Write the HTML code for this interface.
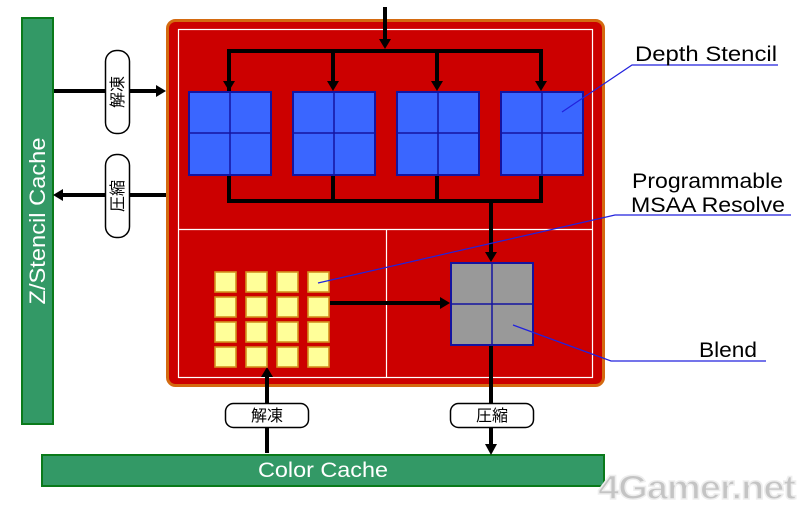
<!DOCTYPE html>
<html><head><meta charset="utf-8"><style>
html,body{margin:0;padding:0;background:#fff;}
svg{display:block;}
</style></head><body>
<svg width="800" height="507" viewBox="0 0 800 507" xmlns="http://www.w3.org/2000/svg">
<rect width="800" height="507" fill="#fff"/>
<!-- Z/Stencil cache -->
<rect x="22" y="18" width="31" height="406" fill="#339966" stroke="#0a7a1a" stroke-width="2"/>
<text transform="translate(45,221) rotate(-90)" text-anchor="middle" font-family="Liberation Sans, sans-serif" font-size="22" fill="#fff" textLength="167" lengthAdjust="spacingAndGlyphs">Z/Stencil Cache</text>
<!-- Color cache -->
<rect x="42" y="455" width="562" height="31" fill="#339966" stroke="#0a7a1a" stroke-width="2"/>
<text x="323" y="477" text-anchor="middle" font-family="Liberation Sans, sans-serif" font-size="21" fill="#fff" textLength="130" lengthAdjust="spacingAndGlyphs">Color Cache</text>
<!-- main box -->
<rect x="167.5" y="20.5" width="436" height="365" rx="8" fill="#cc0000" stroke="#d46a10" stroke-width="3"/>
<rect x="178.5" y="29.5" width="414" height="348" fill="none" stroke="#fff" stroke-width="1.2"/>
<line x1="178.5" y1="229.5" x2="592.5" y2="229.5" stroke="#fff" stroke-width="1.2"/>
<line x1="386.5" y1="229.5" x2="386.5" y2="377.5" stroke="#fff" stroke-width="1.2"/>
<!-- top arrow & bus -->
<g stroke="#000" stroke-width="4" fill="none">
<line x1="385" y1="7" x2="385" y2="40"/>
<polyline points="229,91 229,51 541,51 541,82"/>
<line x1="333" y1="51" x2="333" y2="82"/>
<line x1="437" y1="51" x2="437" y2="82"/>
<line x1="229" y1="175" x2="229" y2="201"/>
<line x1="333" y1="175" x2="333" y2="201"/>
<line x1="437" y1="175" x2="437" y2="201"/>
<line x1="541" y1="175" x2="541" y2="201"/>
<line x1="227" y1="201" x2="543" y2="201"/>
<line x1="491" y1="201" x2="491" y2="253"/>
<line x1="330" y1="303" x2="441" y2="303"/>
<line x1="491" y1="345" x2="491" y2="445"/>
<line x1="267" y1="453" x2="267" y2="376"/>
<line x1="54" y1="91" x2="157" y2="91"/>
<line x1="166" y1="195" x2="62" y2="195"/>
</g>
<g fill="#000">
<polygon points="379,39 391,39 385,49"/>
<polygon points="223,81 235,81 229,91"/>
<polygon points="327,81 339,81 333,91"/>
<polygon points="431,81 443,81 437,91"/>
<polygon points="535,81 547,81 541,91"/>
<polygon points="485,252 497,252 491,262"/>
<polygon points="440,297 440,309 450,303"/>
<polygon points="485,444 497,444 491,455"/>
<polygon points="261,377 273,377 267,367"/>
<polygon points="156,85 156,97 166,91"/>
<polygon points="63,189 63,201 53,195"/>
</g>
<!-- blue blocks -->
<g fill="#3a66ff" stroke="#1414a0" stroke-width="2">
<rect x="189" y="92" width="82" height="83"/>
<rect x="293" y="92" width="82" height="83"/>
<rect x="397" y="92" width="82" height="83"/>
<rect x="501" y="92" width="82" height="83"/>
</g>
<g stroke="#1414a0" stroke-width="1.5">
<line x1="230" y1="92" x2="230" y2="175"/><line x1="189" y1="133" x2="271" y2="133"/>
<line x1="334" y1="92" x2="334" y2="175"/><line x1="293" y1="133" x2="375" y2="133"/>
<line x1="438" y1="92" x2="438" y2="175"/><line x1="397" y1="133" x2="479" y2="133"/>
<line x1="542" y1="92" x2="542" y2="175"/><line x1="501" y1="133" x2="583" y2="133"/>
</g>
<!-- gray block -->
<rect x="451" y="263" width="82" height="82" fill="#999999" stroke="#1414a0" stroke-width="2"/>
<line x1="492" y1="263" x2="492" y2="345" stroke="#1414a0" stroke-width="1.5"/>
<line x1="451" y1="304" x2="533" y2="304" stroke="#1414a0" stroke-width="1.5"/>
<!-- yellow squares -->
<g fill="#ffff99" stroke="#d4901e" stroke-width="1.6">
<rect x="215" y="272" width="21" height="20"/><rect x="246" y="272" width="21" height="20"/><rect x="277" y="272" width="21" height="20"/><rect x="308" y="272" width="21" height="20"/>
<rect x="215" y="297" width="21" height="20"/><rect x="246" y="297" width="21" height="20"/><rect x="277" y="297" width="21" height="20"/><rect x="308" y="297" width="21" height="20"/>
<rect x="215" y="322" width="21" height="20"/><rect x="246" y="322" width="21" height="20"/><rect x="277" y="322" width="21" height="20"/><rect x="308" y="322" width="21" height="20"/>
<rect x="215" y="347" width="21" height="20"/><rect x="246" y="347" width="21" height="20"/><rect x="277" y="347" width="21" height="20"/><rect x="308" y="347" width="21" height="20"/>
</g>
<!-- label boxes -->
<g fill="#fff" stroke="#000" stroke-width="1.5">
<rect x="105.5" y="50.5" width="24" height="83" rx="11"/>
<rect x="105.5" y="154.5" width="24" height="83" rx="11"/>
<rect x="225.5" y="403.5" width="83" height="24" rx="8"/>
<rect x="450.5" y="403.5" width="83" height="24" rx="8"/>
</g>
<g font-family="Liberation Sans, 'Noto Sans CJK JP', sans-serif" font-size="16" fill="#000" text-anchor="middle">
<text transform="translate(123,92) rotate(-90)">解凍</text>
<text transform="translate(123,196) rotate(-90)">圧縮</text>
<text x="267" y="421">解凍</text>
<text x="492" y="421">圧縮</text>
</g>
<!-- leader lines -->
<g stroke="#2222dd" stroke-width="1.2" fill="none">
<polyline points="562,112 632,65 778,65"/>
<polyline points="318,283 615,215 791,215"/>
<polyline points="513,325 611,361 766,361"/>
</g>
<g font-family="Liberation Sans, sans-serif" font-size="21" fill="#000">
<text x="635" y="61" textLength="142" lengthAdjust="spacingAndGlyphs">Depth Stencil</text>
<text x="632" y="188" textLength="151" lengthAdjust="spacingAndGlyphs">Programmable</text>
<text x="631" y="212" textLength="154" lengthAdjust="spacingAndGlyphs">MSAA Resolve</text>
<text x="699" y="357" textLength="58" lengthAdjust="spacingAndGlyphs">Blend</text>
</g>
<!-- watermark -->
<text x="598" y="499" font-family="Liberation Sans, sans-serif" font-weight="bold" font-size="34" fill="#c4c4c4" stroke="#eeeeee" stroke-width="1.5" textLength="197" lengthAdjust="spacingAndGlyphs" letter-spacing="-1">4Gamer.net</text>
</svg>
</body></html>
